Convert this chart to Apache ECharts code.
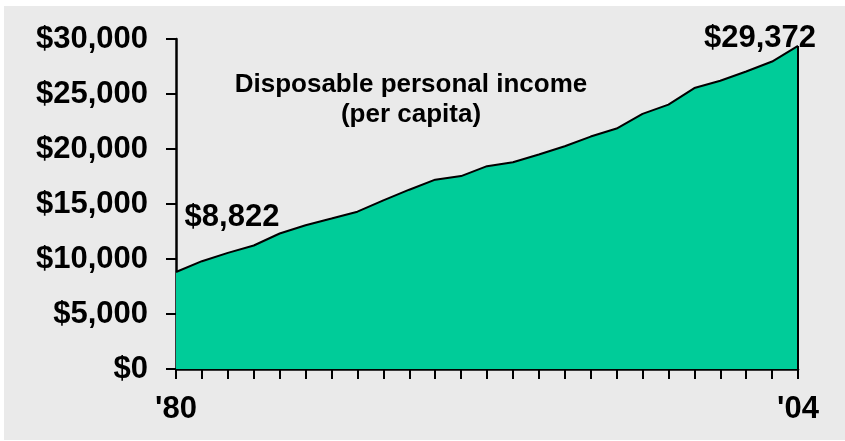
<!DOCTYPE html>
<html>
<head>
<meta charset="utf-8">
<script src="https://cdn.jsdelivr.net/npm/echarts@6/dist/echarts.min.js"></script>
<style>
html,body{margin:0;padding:0;background:#ffffff;}
#c{width:845px;height:441px;}
</style>
</head>
<body>
<div id="c"></div>
<script>
const years = ['1980','1981','1982','1983','1984','1985','1986','1987','1988','1989','1990','1991','1992','1993','1994','1995','1996','1997','1998','1999','2000','2001','2002','2003','2004'];
const income = [8822, 9800, 10560, 11230, 12320, 13070, 13680, 14300, 15330, 16300, 17210, 17540, 18440, 18800, 19500, 20250, 21130, 21860, 23190, 24030, 25540, 26200, 27050, 27950, 29372];
const xTickLabelYears = ['1980', '2004'];
const xTickLabelTexts = ["'80", "'04"];
const yTicks = [0, 5000, 10000, 15000, 20000, 25000, 30000];
const titleLines = ['Disposable personal income', '(per capita)'];

const FONT = "'Liberation Sans', Arial, sans-serif";
const fmtMoney = v => '$' + Number(v).toLocaleString('en-US');

const lastIdx = income.length - 1;
const seriesData = income.map((v, i) => {
  if (i === 0) {
    return {value: v, label: {show: true, position: 'inside', offset: [56, -55], formatter: () => fmtMoney(v)}};
  }
  if (i === lastIdx) {
    return {value: v, label: {show: true, position: 'inside', offset: [-38, -7], formatter: () => fmtMoney(v)}};
  }
  return v;
});

const chart = echarts.init(document.getElementById('c'), null, {renderer: 'canvas'});
chart.setOption({
  animation: false,
  backgroundColor: '#ffffff',
  graphic: {
    elements: [{
      type: 'rect', z: -100, silent: true,
      left: 4, top: 6,
      shape: {width: 841, height: 434},
      style: {fill: '#eaeaea'}
    }]
  },
  title: {
    text: titleLines.join('\n'),
    left: 411, top: 70, padding: 0,
    textAlign: 'center',
    textStyle: {fontFamily: FONT, fontWeight: 'bold', fontSize: 26, lineHeight: 30, color: '#000'}
  },
  grid: {left: 176, right: 47, top: 39, bottom: 72, containLabel: false},
  xAxis: {
    type: 'category',
    data: years,
    boundaryGap: false,
    axisLine: {show: true, onZero: false, lineStyle: {color: '#000', width: 2.5}},
    axisTick: {show: true, interval: 0, length: 10, lineStyle: {color: '#000', width: 2}},
    axisLabel: {
      show: true, interval: 0, margin: 25,
      fontFamily: FONT, fontWeight: 'bold', fontSize: 31, color: '#000',
      formatter: v => { const k = xTickLabelYears.indexOf(v); return k >= 0 ? xTickLabelTexts[k] : ''; }
    },
    splitLine: {show: false}
  },
  yAxis: {
    type: 'value',
    min: yTicks[0], max: yTicks[yTicks.length - 1], interval: yTicks[1] - yTicks[0],
    axisLine: {show: true, lineStyle: {color: '#000', width: 2.5}},
    axisTick: {show: true, length: 10, lineStyle: {color: '#000', width: 2}},
    axisLabel: {
      margin: 28,
      fontFamily: FONT, fontWeight: 'bold', fontSize: 31, color: '#000',
      formatter: v => fmtMoney(v)
    },
    splitLine: {show: false}
  },
  series: [{
    type: 'line',
    data: seriesData,
    symbol: 'circle',
    symbolSize: 1,
    showSymbol: true,
    itemStyle: {color: 'rgba(0,0,0,0)'},
    lineStyle: {color: '#000', width: 2},
    areaStyle: {color: '#00cc99', opacity: 1},
    label: {fontFamily: FONT, fontWeight: 'bold', fontSize: 31, color: '#000'},
    z: 2,
    markLine: {
      silent: true,
      symbol: ['none', 'none'],
      label: {show: false},
      lineStyle: {color: '#000', width: 2, type: 'solid'},
      data: [[{coord: [years[lastIdx], 0]}, {coord: [years[lastIdx], income[lastIdx]]}]]
    }
  }]
});
</script>
</body>
</html>
